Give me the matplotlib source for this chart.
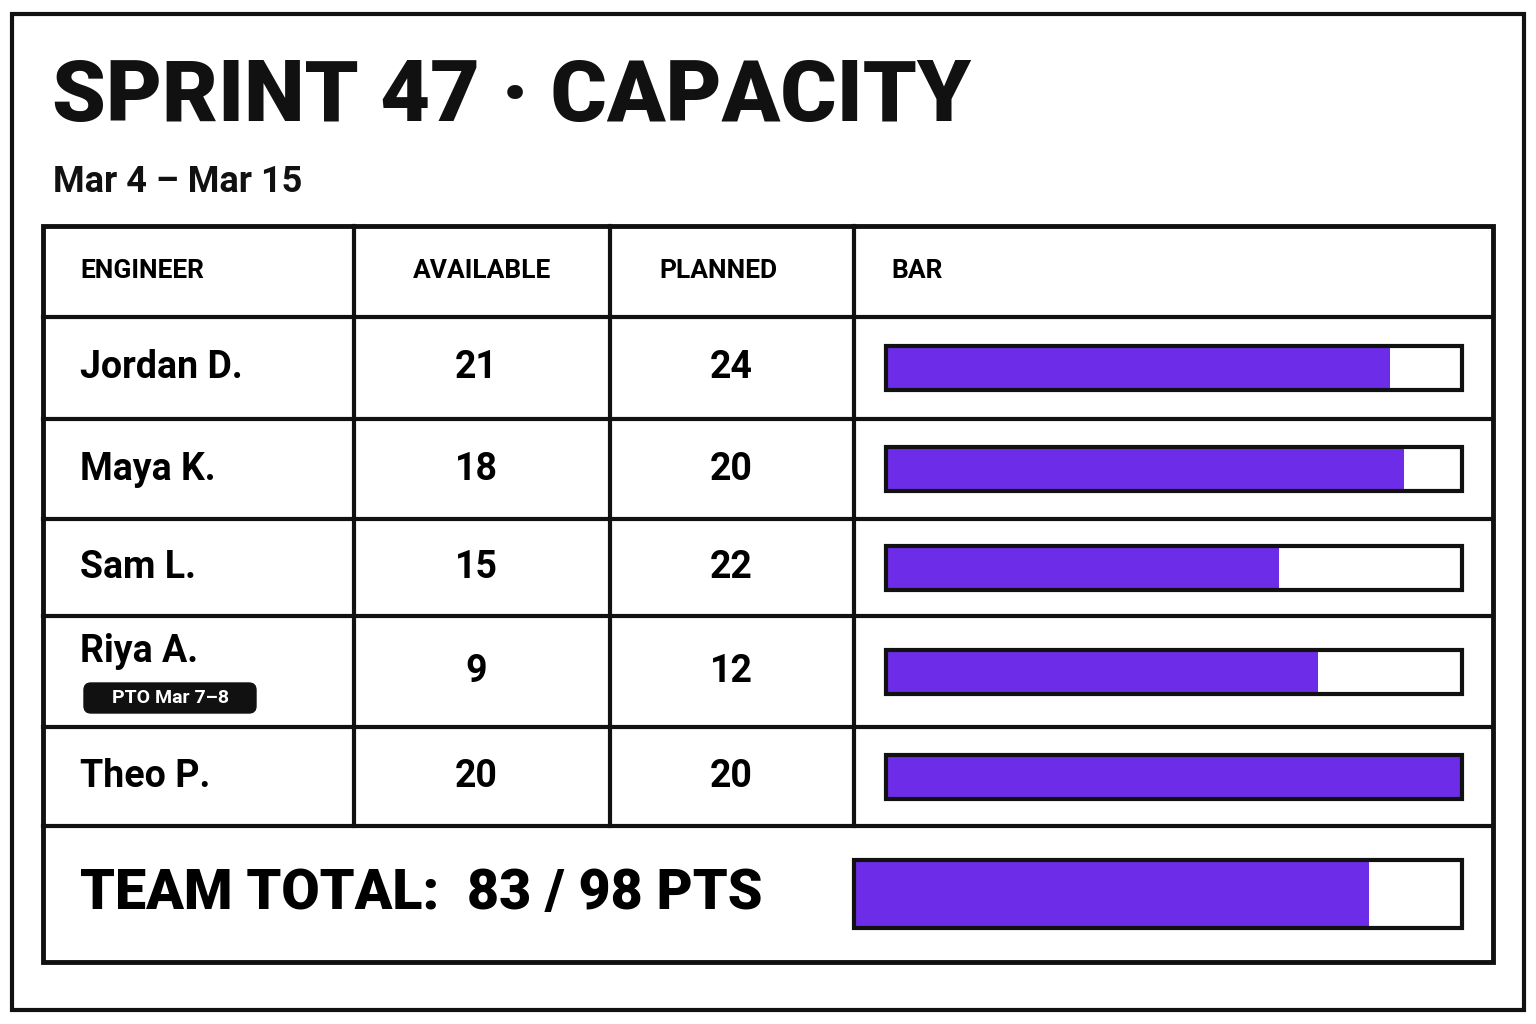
import matplotlib.pyplot as plt
from matplotlib.patches import Rectangle, FancyBboxPatch

plt.rcParams['font.family'] = ['Roboto', 'DejaVu Sans']

# data
engineers = ['Jordan D.', 'Maya K.', 'Sam L.', 'Riya A.', 'Theo P.']
available = [21, 18, 15, 9, 20]
planned = [24, 20, 22, 12, 20]
notes = [None, None, None, 'PTO Mar 7–8', None]
headers = ['ENGINEER', 'AVAILABLE', 'PLANNED', 'BAR']

PURPLE = '#6D2CE8'
W, H = 1536, 1024

fig = plt.figure(figsize=(W / 100, H / 100), dpi=100)
ax = fig.add_axes([0, 0, 1, 1])
ax.set_xlim(0, W)
ax.set_ylim(H, 0)
ax.axis('off')

# outer frame
ax.add_patch(Rectangle((12, 14), 1512, 996, fill=False, lw=3, ec='#111'))

# title
ax.text(52, 97, 'SPRINT 47 · CAPACITY', fontsize=62, weight='black',
        va='center', ha='left', color='#111')
ax.text(53, 182, 'Mar 4 – Mar 15', fontsize=26, weight='bold',
        va='center', ha='left', color='#111')

# table frame + lines
tx0, tx1, ty0, ty1 = 43, 1493, 226, 962
ax.add_patch(Rectangle((tx0, ty0), tx1 - tx0, ty1 - ty0, fill=False, lw=3.5, ec='#111'))
row_edges = [226, 317, 419, 519, 616, 727, 826]
col_edges = [43, 354, 610, 854, 1493]
for y in row_edges[1:]:
    ax.plot([tx0, tx1], [y, y], color='#111', lw=3)
for x in col_edges[1:-1]:
    ax.plot([x, x], [row_edges[0], row_edges[-1]], color='#111', lw=3)

# header
hy = (row_edges[0] + row_edges[1]) / 2
ax.text(80, hy, headers[0], fontsize=19, weight='bold', va='center', ha='left')
ax.text(482, hy, headers[1], fontsize=19, weight='bold', va='center', ha='center')
ax.text(718, hy, headers[2], fontsize=19, weight='bold', va='center', ha='center')
ax.text(891, hy, headers[3], fontsize=19, weight='bold', va='center', ha='left')

# rows
bx0, bx1, bh = 886, 1462, 44
for i, name in enumerate(engineers):
    top, bot = row_edges[i + 1], row_edges[i + 2]
    cy = (top + bot) / 2
    if notes[i]:
        ax.text(80, cy - 20, name, fontsize=27, weight='bold', va='center', ha='left')
        ax.add_patch(FancyBboxPatch((84, 683), 172, 30, boxstyle='round,pad=0,rounding_size=7',
                                    fc='#111', ec='#111'))
        ax.text(170, 698, notes[i], fontsize=14, weight='bold', color='white',
                va='center', ha='center')
    else:
        ax.text(80, cy, name, fontsize=27, weight='bold', va='center', ha='left')
    ax.text(476, cy, str(available[i]), fontsize=27, weight='bold', va='center', ha='center')
    ax.text(731, cy, str(planned[i]), fontsize=27, weight='bold', va='center', ha='center')
    frac = min(available[i] / planned[i], 1)
    ax.add_patch(Rectangle((bx0, cy - bh / 2), (bx1 - bx0) * frac, bh, fc=PURPLE, ec='none'))
    ax.add_patch(Rectangle((bx0, cy - bh / 2), bx1 - bx0, bh, fill=False, lw=3, ec='#111'))

# total row
tot_a, tot_p = sum(available), sum(planned)
cy = (row_edges[-1] + ty1) / 2
ax.text(80, cy, f'TEAM TOTAL:  {tot_a} / {tot_p} PTS', fontsize=40, weight='black',
        va='center', ha='left')
tb0, tb1, tbh = 854, 1462, 68
ax.add_patch(Rectangle((tb0, cy - tbh / 2), (tb1 - tb0) * tot_a / tot_p, tbh, fc=PURPLE, ec='none'))
ax.add_patch(Rectangle((tb0, cy - tbh / 2), tb1 - tb0, tbh, fill=False, lw=3, ec='#111'))

fig.savefig('out.png', dpi=100, facecolor='white')
